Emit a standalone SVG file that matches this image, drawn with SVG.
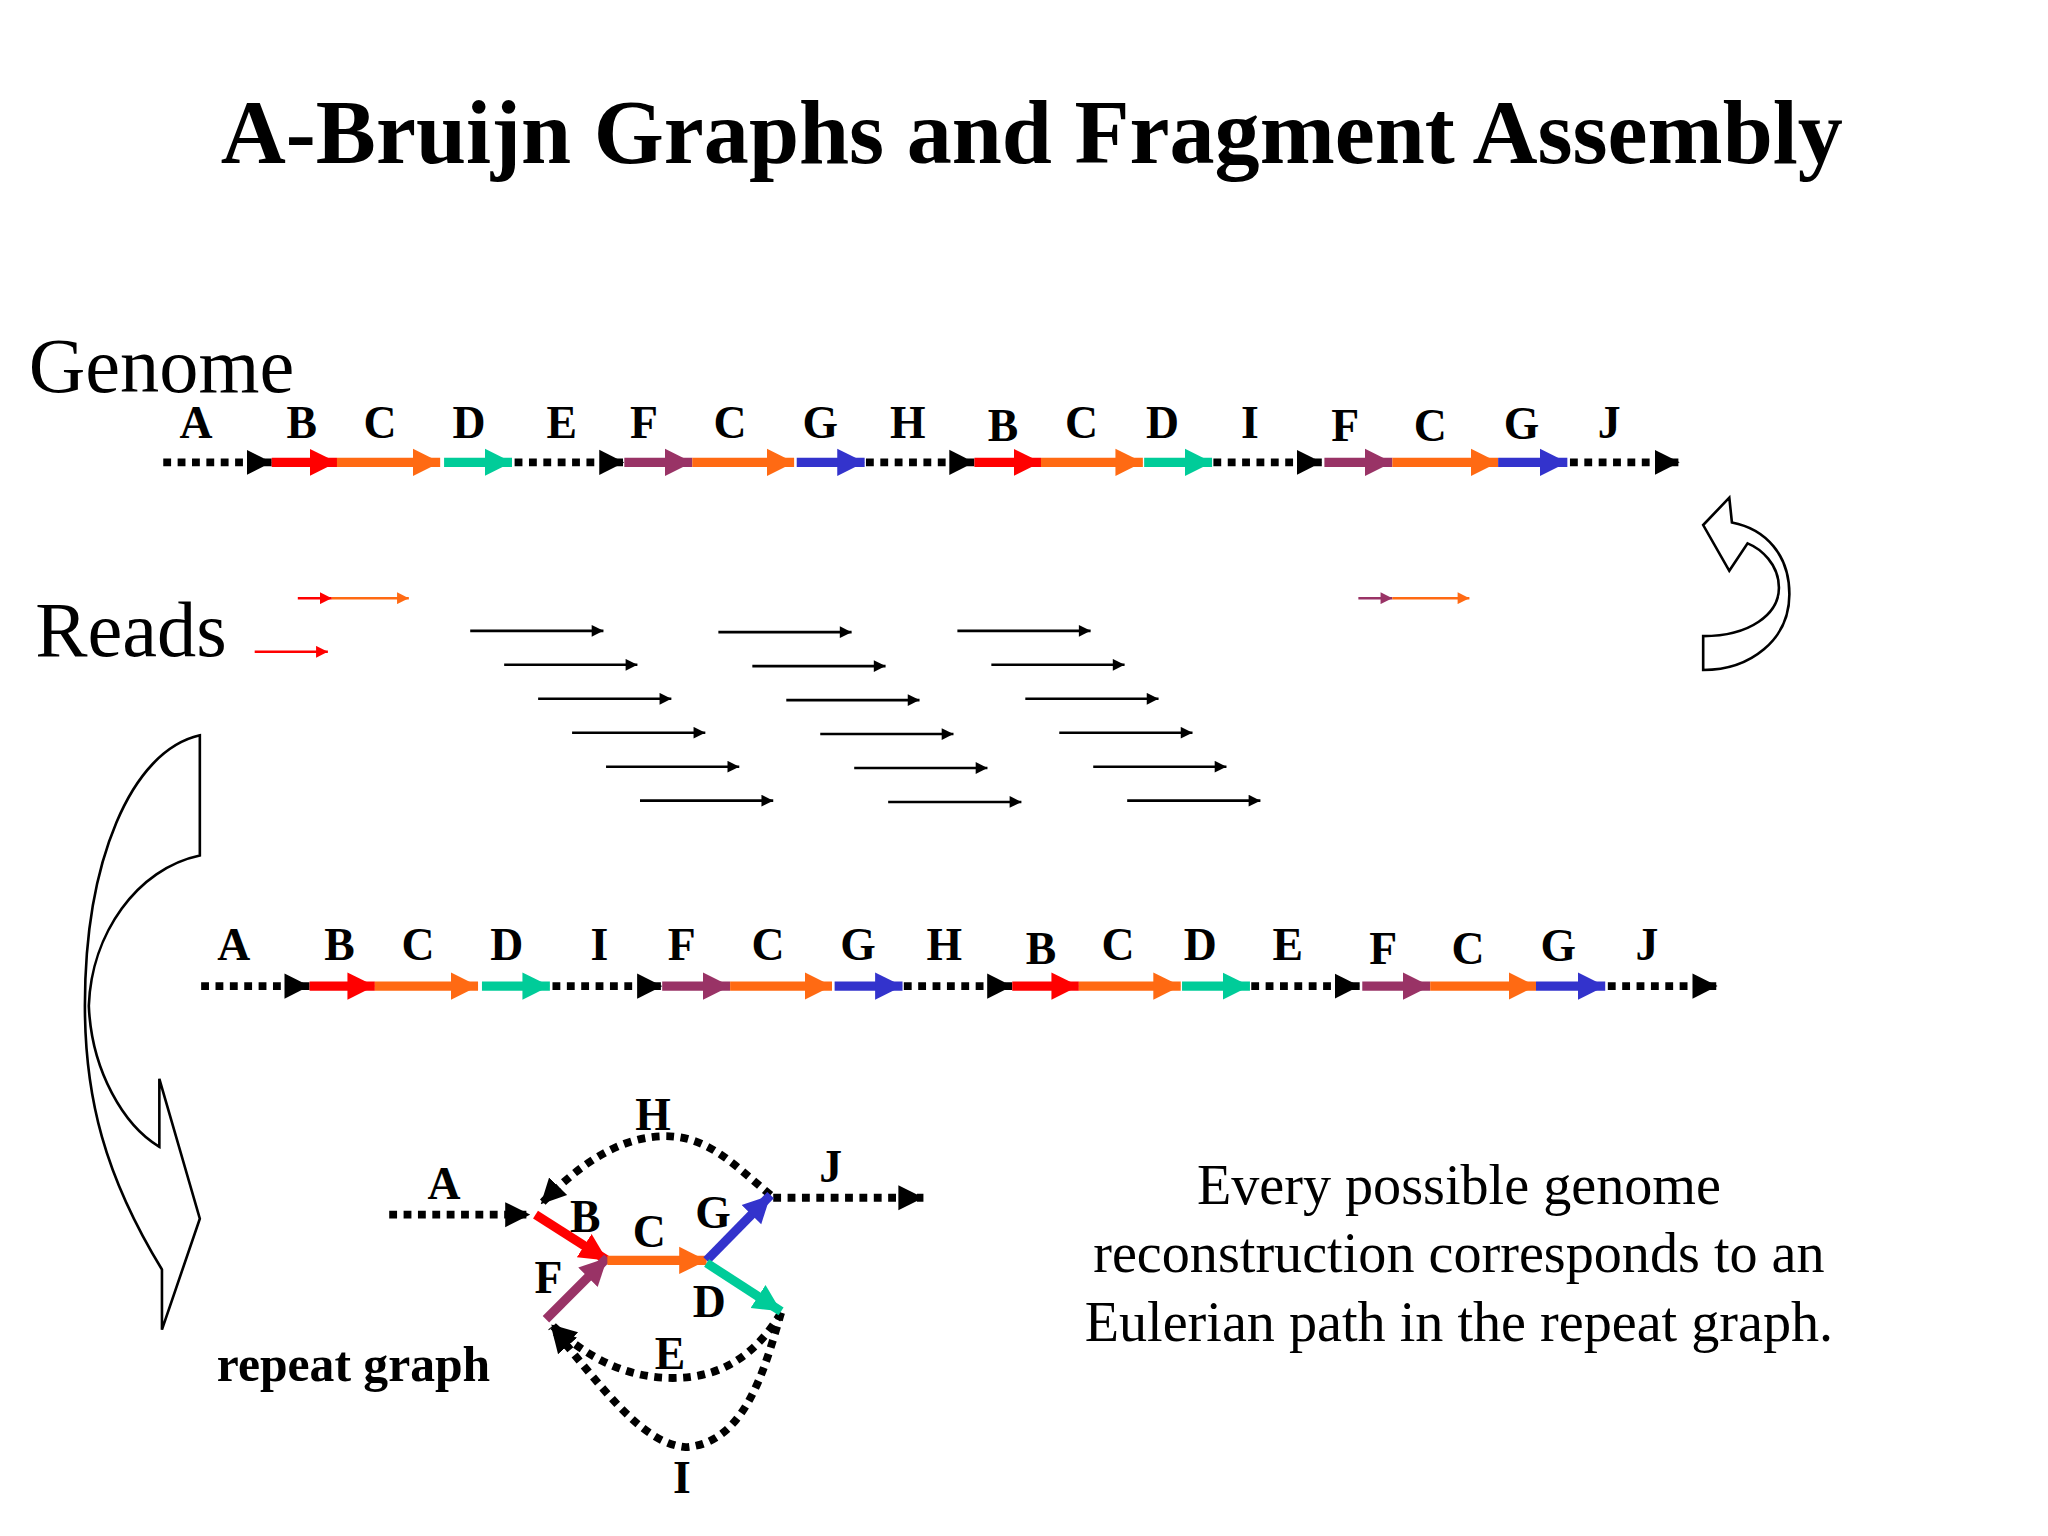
<svg xmlns="http://www.w3.org/2000/svg" width="2048" height="1536" viewBox="0 0 2048 1536">
<style>
.t{font-family:"Liberation Serif",serif;fill:#000}
.lb{font-family:"Liberation Serif",serif;font-weight:bold;font-size:35px;text-anchor:middle}
.th{stroke-width:7;fill:none}
.dot{stroke:#000;stroke-width:6;stroke-dasharray:6 5;fill:none}
.rd{stroke-width:2;fill:none}
.ol{fill:#fff;stroke:#000;stroke-width:2}
</style>
<defs>
<marker id="k" viewBox="0 0 10 10" refX="10" refY="5" markerWidth="3.2" markerHeight="3.6" orient="auto"><path d="M0,0L10,5L0,10z" fill="#000"/></marker>
<marker id="r" viewBox="0 0 10 10" refX="10" refY="5" markerWidth="3" markerHeight="3.3" orient="auto"><path d="M0,0L10,5L0,10z" fill="#ff0000"/></marker>
<marker id="o" viewBox="0 0 10 10" refX="10" refY="5" markerWidth="3" markerHeight="3.3" orient="auto"><path d="M0,0L10,5L0,10z" fill="#ff6a13"/></marker>
<marker id="g" viewBox="0 0 10 10" refX="10" refY="5" markerWidth="3" markerHeight="3.3" orient="auto"><path d="M0,0L10,5L0,10z" fill="#00cc99"/></marker>
<marker id="p" viewBox="0 0 10 10" refX="10" refY="5" markerWidth="3" markerHeight="3.3" orient="auto"><path d="M0,0L10,5L0,10z" fill="#993366"/></marker>
<marker id="b" viewBox="0 0 10 10" refX="10" refY="5" markerWidth="3" markerHeight="3.3" orient="auto"><path d="M0,0L10,5L0,10z" fill="#3333cc"/></marker>
<marker id="ks" viewBox="0 0 10 10" refX="10" refY="5" markerWidth="5" markerHeight="4.5" orient="auto"><path d="M0,0L10,5L0,10z" fill="#000"/></marker>
<marker id="rs" viewBox="0 0 10 10" refX="10" refY="5" markerWidth="5" markerHeight="4.5" orient="auto"><path d="M0,0L10,5L0,10z" fill="#ff0000"/></marker>
<marker id="os" viewBox="0 0 10 10" refX="10" refY="5" markerWidth="5" markerHeight="4.5" orient="auto"><path d="M0,0L10,5L0,10z" fill="#ff6a13"/></marker>
<marker id="ps" viewBox="0 0 10 10" refX="10" refY="5" markerWidth="5" markerHeight="4.5" orient="auto"><path d="M0,0L10,5L0,10z" fill="#993366"/></marker>
</defs>
<rect width="2048" height="1536" fill="#fff"/>
<g transform="scale(1.30612)">
<text class="t" x="790" y="125" font-size="69" font-weight="bold" text-anchor="middle">A-Bruijn Graphs and Fragment Assembly</text>
<text class="t" x="22" y="300" font-size="60">Genome</text>
<text class="t" x="27" y="502" font-size="60">Reads</text>

<g id="genome">
<g class="lb"><text x="150" y="335">A</text><text x="231" y="335">B</text><text x="291" y="335">C</text><text x="359" y="335">D</text><text x="430" y="335">E</text><text x="493" y="335">F</text><text x="559" y="335">C</text><text x="628" y="335">G</text><text x="695" y="335">H</text><text x="768" y="338">B</text><text x="828" y="335">C</text><text x="890" y="335">D</text><text x="957" y="335">I</text><text x="1030" y="338">F</text><text x="1095" y="338">C</text><text x="1165" y="336">G</text><text x="1232" y="335">J</text></g>
<g transform="translate(0,354)">
<line class="dot" x1="125" y1="0" x2="208" y2="0" marker-end="url(#k)"/>
<line class="th" stroke="#ff0000" x1="208" y1="0" x2="258" y2="0" marker-end="url(#r)"/>
<line class="th" stroke="#ff6a13" x1="258" y1="0" x2="337" y2="0" marker-end="url(#o)"/>
<line class="th" stroke="#00cc99" x1="340" y1="0" x2="392" y2="0" marker-end="url(#g)"/>
<line class="dot" x1="394" y1="0" x2="478" y2="0" marker-end="url(#k)"/>
<line class="th" stroke="#993366" x1="478" y1="0" x2="530" y2="0" marker-end="url(#p)"/>
<line class="th" stroke="#ff6a13" x1="530" y1="0" x2="608" y2="0" marker-end="url(#o)"/>
<line class="th" stroke="#3333cc" x1="610" y1="0" x2="662" y2="0" marker-end="url(#b)"/>
<line class="dot" x1="663" y1="0" x2="746" y2="0" marker-end="url(#k)"/>
<line class="th" stroke="#ff0000" x1="746" y1="0" x2="797" y2="0" marker-end="url(#r)"/>
<line class="th" stroke="#ff6a13" x1="797" y1="0" x2="875" y2="0" marker-end="url(#o)"/>
<line class="th" stroke="#00cc99" x1="876" y1="0" x2="928" y2="0" marker-end="url(#g)"/>
<line class="dot" x1="929" y1="0" x2="1012" y2="0" marker-end="url(#k)"/>
<line class="th" stroke="#993366" x1="1014" y1="0" x2="1066" y2="0" marker-end="url(#p)"/>
<line class="th" stroke="#ff6a13" x1="1066" y1="0" x2="1147" y2="0" marker-end="url(#o)"/>
<line class="th" stroke="#3333cc" x1="1147" y1="0" x2="1200" y2="0" marker-end="url(#b)"/>
<line class="dot" x1="1202" y1="0" x2="1286" y2="0" marker-end="url(#k)"/>
</g>
</g>

<g id="genome2">
<g class="lb"><text x="179" y="735">A</text><text x="260" y="735">B</text><text x="320" y="735">C</text><text x="388" y="735">D</text><text x="459" y="735">I</text><text x="522" y="735">F</text><text x="588" y="735">C</text><text x="657" y="735">G</text><text x="723" y="735">H</text><text x="797" y="738">B</text><text x="856" y="735">C</text><text x="919" y="735">D</text><text x="986" y="735">E</text><text x="1059" y="738">F</text><text x="1124" y="738">C</text><text x="1193" y="736">G</text><text x="1261" y="735">J</text></g>
<g transform="translate(29,755)">
<line class="dot" x1="125" y1="0" x2="208" y2="0" marker-end="url(#k)"/>
<line class="th" stroke="#ff0000" x1="208" y1="0" x2="258" y2="0" marker-end="url(#r)"/>
<line class="th" stroke="#ff6a13" x1="258" y1="0" x2="337" y2="0" marker-end="url(#o)"/>
<line class="th" stroke="#00cc99" x1="340" y1="0" x2="392" y2="0" marker-end="url(#g)"/>
<line class="dot" x1="394" y1="0" x2="478" y2="0" marker-end="url(#k)"/>
<line class="th" stroke="#993366" x1="478" y1="0" x2="530" y2="0" marker-end="url(#p)"/>
<line class="th" stroke="#ff6a13" x1="530" y1="0" x2="608" y2="0" marker-end="url(#o)"/>
<line class="th" stroke="#3333cc" x1="610" y1="0" x2="662" y2="0" marker-end="url(#b)"/>
<line class="dot" x1="663" y1="0" x2="746" y2="0" marker-end="url(#k)"/>
<line class="th" stroke="#ff0000" x1="746" y1="0" x2="797" y2="0" marker-end="url(#r)"/>
<line class="th" stroke="#ff6a13" x1="797" y1="0" x2="875" y2="0" marker-end="url(#o)"/>
<line class="th" stroke="#00cc99" x1="876" y1="0" x2="928" y2="0" marker-end="url(#g)"/>
<line class="dot" x1="929" y1="0" x2="1012" y2="0" marker-end="url(#k)"/>
<line class="th" stroke="#993366" x1="1014" y1="0" x2="1066" y2="0" marker-end="url(#p)"/>
<line class="th" stroke="#ff6a13" x1="1066" y1="0" x2="1147" y2="0" marker-end="url(#o)"/>
<line class="th" stroke="#3333cc" x1="1147" y1="0" x2="1200" y2="0" marker-end="url(#b)"/>
<line class="dot" x1="1202" y1="0" x2="1286" y2="0" marker-end="url(#k)"/>
</g>
</g>

<g id="reads">
<line class="rd" stroke="#ff0000" x1="228" y1="458" x2="254" y2="458" marker-end="url(#rs)"/>
<line class="rd" stroke="#ff6a13" x1="254" y1="458" x2="313" y2="458" marker-end="url(#os)"/>
<line class="rd" stroke="#ff0000" x1="195" y1="499" x2="251" y2="499" marker-end="url(#rs)"/>
<line class="rd" stroke="#993366" x1="1040" y1="458" x2="1066" y2="458" marker-end="url(#ps)"/>
<line class="rd" stroke="#ff6a13" x1="1066" y1="458" x2="1125" y2="458" marker-end="url(#os)"/>
<g stroke="#000" class="rd" marker-end="url(#ks)">
<line x1="360" y1="483" x2="462" y2="483"/><line x1="386" y1="509" x2="488" y2="509"/><line x1="412" y1="535" x2="514" y2="535"/><line x1="438" y1="561" x2="540" y2="561"/><line x1="464" y1="587" x2="566" y2="587"/><line x1="490" y1="613" x2="592" y2="613"/>
<line x1="550" y1="484" x2="652" y2="484"/><line x1="576" y1="510" x2="678" y2="510"/><line x1="602" y1="536" x2="704" y2="536"/><line x1="628" y1="562" x2="730" y2="562"/><line x1="654" y1="588" x2="756" y2="588"/><line x1="680" y1="614" x2="782" y2="614"/>
<line x1="733" y1="483" x2="835" y2="483"/><line x1="759" y1="509" x2="861" y2="509"/><line x1="785" y1="535" x2="887" y2="535"/><line x1="811" y1="561" x2="913" y2="561"/><line x1="837" y1="587" x2="939" y2="587"/><line x1="863" y1="613" x2="965" y2="613"/>
</g>
</g>

<g id="uturn"><path class="ol" d="M1304,513 L1304,487 C1340,487 1362,470 1362,450 C1362,432 1348,420 1338,416 L1324,437 L1304,402 L1324,381 L1326,400 C1352,405 1370,425 1370,455 C1370,490 1340,513 1304,513 Z"/></g>
<g id="bigarrow"><path class="ol" d="M153,563 L153,655 C105,665 70,715 68,770 C70,820 95,862 122,878 L122,826 L153,933 L124,1018 L124,972 C80,900 65,840 65,770 C65,660 100,575 153,563 Z"/></g>

<g id="repeat-graph">
<path class="dot" d="M590,915 C560,890 540,868 505,870 C470,872 440,895 414,922" marker-end="url(#k)"/>
<path class="dot" d="M598,1005 C580,1035 555,1055 515,1055 C480,1055 450,1040 422,1014" marker-end="url(#k)"/>
<path class="dot" d="M598,1005 C585,1050 570,1105 525,1108 C490,1105 460,1060 422,1016" marker-end="url(#k)"/>
<line class="dot" x1="298" y1="930" x2="406" y2="930" marker-end="url(#k)"/>
<line class="dot" x1="592" y1="917" x2="707" y2="917" marker-end="url(#k)"/>
<line class="th" stroke="#ff0000" x1="410" y1="930" x2="465" y2="965" marker-end="url(#r)"/>
<line class="th" stroke="#993366" x1="418" y1="1010" x2="465" y2="963" marker-end="url(#p)"/>
<line class="th" stroke="#ff6a13" x1="465" y1="965" x2="541" y2="965" marker-end="url(#o)"/>
<line class="th" stroke="#3333cc" x1="541" y1="965" x2="590" y2="915" marker-end="url(#b)"/>
<line class="th" stroke="#00cc99" x1="541" y1="967" x2="598" y2="1004" marker-end="url(#g)"/>
<g class="lb"><text x="340" y="918">A</text><text x="500" y="865">H</text><text x="636" y="905">J</text><text x="448" y="943">B</text><text x="497" y="955">C</text><text x="546" y="940">G</text><text x="420" y="990">F</text><text x="543" y="1008">D</text><text x="513" y="1048">E</text><text x="522" y="1143">I</text></g>
<text class="t" x="166" y="1057" font-size="38" font-weight="bold">repeat graph</text>
</g>

<g id="caption" class="t" font-size="43" text-anchor="middle">
<text x="1117" y="922">Every possible genome</text>
<text x="1117" y="974">reconstruction corresponds to an</text>
<text x="1117" y="1027">Eulerian path in the repeat graph.</text>
</g>
</g>
</svg>
